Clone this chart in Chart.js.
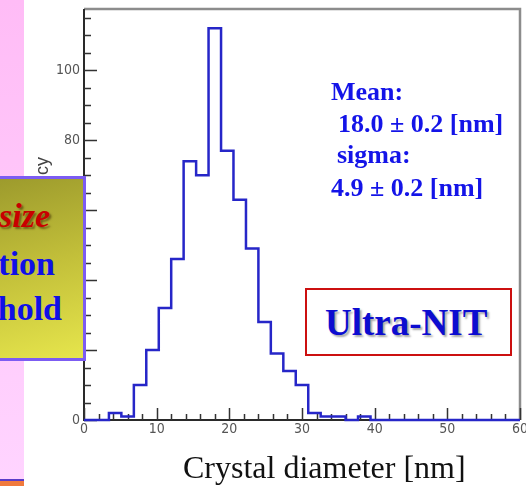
<!DOCTYPE html>
<html>
<head>
<meta charset="utf-8">
<script src="https://cdn.jsdelivr.net/npm/chart.js@4.4.1/dist/chart.umd.min.js"></script>
<style>
  html, body { margin: 0; padding: 0; background: #fff; overflow: hidden; }
  #wrap { position: relative; width: 526px; height: 486px; }
  #chart { position: absolute; left: 0; top: 0; }
  .strip { position: absolute; left: 0; top: 0; width: 24px; height: 479px;
           background: linear-gradient(#ffbcf6, #ffd4ff); }
  .stripLine { position: absolute; left: 0; top: 479px; width: 24px; height: 2px; background: #5a3cc8; }
  .stripFoot { position: absolute; left: 0; top: 481px; width: 24px; height: 5px; background: #f07a3c; }
  .note { position: absolute; left: -20px; top: 176px; width: 100px; height: 179px;
          border: 3px solid #7c5cf2;
          background: linear-gradient(165deg, #9b992c 0%, #c3c03a 50%, #e6e54c 100%); }
  .t { position: absolute; white-space: nowrap; line-height: 1; font-family: "Liberation Serif", "Times New Roman", serif; font-weight: bold; }
  .red { color: #c80000; font-style: italic; text-shadow: 2px 2px 2px rgba(60,40,0,0.55); }
  .blue { color: #1010e6; }
  .stat { color: #1414e8; font-size: 26px; }
  .badge { position: absolute; left: 305px; top: 288px; width: 203px; height: 64px;
           border: 2px solid #cc1010; background: #fff; }
  .xtitle { position: absolute; left: 183px; top: 451px; font-family: "Liberation Serif", "Times New Roman", serif;
            font-size: 32px; line-height: 1; color: #111; white-space: nowrap; }
</style>
</head>
<body>
<div id="wrap">
  <canvas id="chart" width="526" height="486"></canvas>
  <div class="strip"></div>
  <div class="stripLine"></div>
  <div class="stripFoot"></div>
  <div class="note"></div>
  <div class="t red" style="font-size:34px; right:476px; top:199px;">size</div>
  <div class="t blue" style="font-size:34px; right:471px; top:247px;">tion</div>
  <div class="t blue" style="font-size:34px; right:464px; top:292px;">hold</div>

  <div class="t stat" style="left:331px; top:79px;">Mean:</div>
  <div class="t stat" style="left:338px; top:111px;">18.0 ± 0.2 [nm]</div>
  <div class="t stat" style="left:337px; top:142px;">sigma:</div>
  <div class="t stat" style="left:331px; top:175px;">4.9 ± 0.2 [nm]</div>

  <div class="badge"></div>
  <div class="t" style="left:325px; top:304px; font-size:37px; color:#0c0cd0; text-shadow: 2px 2px 2px rgba(0,0,0,0.35);">Ultra-NIT</div>

  <div class="xtitle">Crystal diameter [nm]</div>
</div>
<script>
// Crystal diameter histogram: left bin edges [nm] and counts per bin
const binStarts = [3.43, 5.14, 6.86, 8.57, 10.29, 12.00, 13.71, 15.43, 17.14, 18.86, 20.57,
                   22.29, 24.00, 25.71, 27.43, 29.14, 30.86, 32.57, 34.29, 36.00, 37.71, 39.43];
const counts    = [2, 1, 10, 20, 32, 46, 74, 70, 112, 77, 63,
                   49, 28, 19, 14, 10, 2, 1, 1, 0, 1, 0];
const xRange = [0, 60];
const yRange = [0, 117.5];
const xTicks = [0, 10, 20, 30, 40, 50, 60];
const yTicks = [0, 20, 40, 60, 80, 100];
const yTitle = 'Frequency';

const points = [{ x: xRange[0], y: 0 }]
  .concat(binStarts.map((b, i) => ({ x: b, y: counts[i] })))
  .concat([{ x: xRange[1], y: 0 }]);

const tickFont = { family: "'Liberation Sans Narrow', 'DejaVu Sans Condensed', 'Liberation Sans', sans-serif", size: 14 };

// ROOT-like frame: inward tick marks, black axes, grey top/right border
const framePlugin = {
  id: 'frame',
  beforeDatasetsDraw(chart) {
    const { ctx, chartArea: a, scales: { x, y } } = chart;
    ctx.save();
    // top and right border
    ctx.strokeStyle = '#8c8c8c';
    ctx.lineWidth = 2.5;
    ctx.beginPath();
    ctx.moveTo(a.left, a.top); ctx.lineTo(a.right, a.top); ctx.lineTo(a.right, a.bottom);
    ctx.stroke();
    // axes
    ctx.strokeStyle = '#2a2a2a';
    ctx.lineWidth = 2;
    ctx.beginPath();
    ctx.moveTo(a.left, a.top); ctx.lineTo(a.left, a.bottom); ctx.lineTo(a.right, a.bottom);
    ctx.stroke();
    // tick marks
    ctx.lineWidth = 1.5;
    ctx.strokeStyle = '#333';
    ctx.beginPath();
    for (let v = 0; v <= yRange[1]; v += 5) {
      const py = Math.round(y.getPixelForValue(v)) + 0.5;
      const len = v % 20 === 0 ? 13 : 7;
      ctx.moveTo(a.left, py); ctx.lineTo(a.left + len, py);
    }
    for (let v = 0; v <= xRange[1]; v += 2) {
      const px = Math.round(x.getPixelForValue(v)) + 0.5;
      const len = v % 10 === 0 ? 12 : 6;
      ctx.moveTo(px, a.bottom); ctx.lineTo(px, a.bottom - len);
    }
    ctx.stroke();
    ctx.restore();
  },
  afterDraw(chart) {
    const { ctx } = chart;
    ctx.save();
    ctx.translate(43, 157);
    ctx.rotate(-Math.PI / 2);
    ctx.font = "18px 'Liberation Sans', sans-serif";
    ctx.fillStyle = '#444';
    ctx.textAlign = 'right';
    ctx.textBaseline = 'middle';
    ctx.fillText(yTitle, 0, 0);
    ctx.restore();
  }
};

new Chart(document.getElementById('chart'), {
  type: 'line',
  data: {
    datasets: [{
      data: points,
      stepped: true,
      borderColor: '#2626c8',
      borderWidth: 2.5,
      pointRadius: 0,
      fill: false,
      clip: false
    }]
  },
  options: {
    responsive: false,
    animation: false,
    events: [],
    layout: { padding: { left: 0, right: 6, top: 9, bottom: 0 } },
    plugins: { legend: { display: false }, tooltip: { enabled: false } },
    scales: {
      x: {
        type: 'linear', min: xRange[0], max: xRange[1],
        afterBuildTicks: s => { s.ticks = xTicks.map(v => ({ value: v })); },
        afterFit: s => { s.height = 66; s.paddingLeft = 0; s.paddingRight = 0; },
        grid: { display: false, drawTicks: false },
        border: { display: false },
        ticks: { font: tickFont, color: '#555', padding: 1, maxRotation: 0, autoSkip: false }
      },
      y: {
        type: 'linear', min: yRange[0], max: yRange[1],
        afterBuildTicks: s => { s.ticks = yTicks.map(v => ({ value: v })); },
        afterFit: s => { s.width = 84; s.paddingTop = 0; s.paddingBottom = 0; },
        grid: { display: false, drawTicks: false },
        border: { display: false },
        ticks: { font: tickFont, color: '#555', padding: 4 }
      }
    }
  },
  plugins: [framePlugin]
});
</script>
</body>
</html>
